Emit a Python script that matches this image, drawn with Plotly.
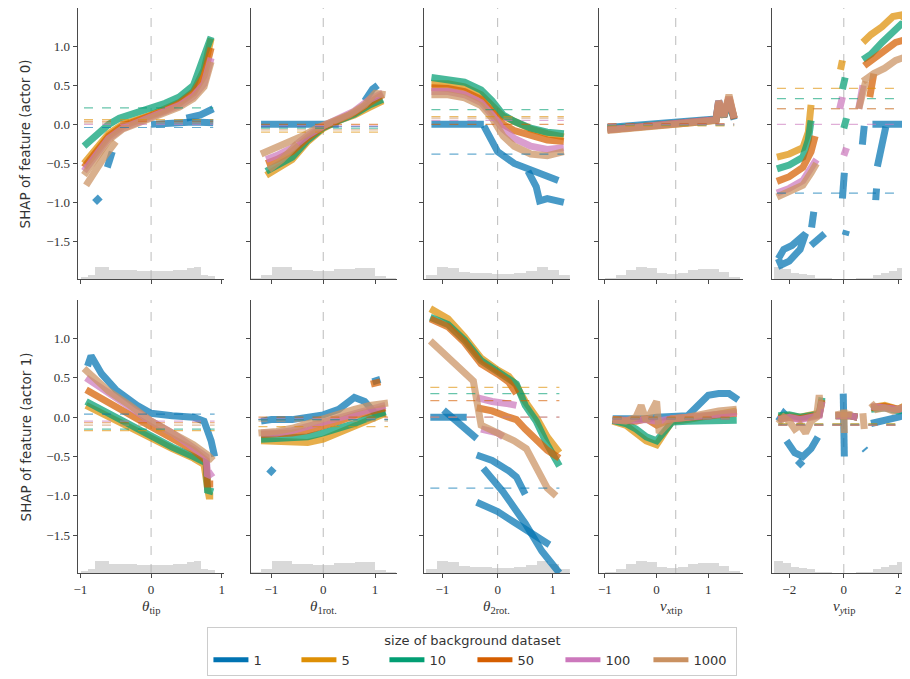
import plotly.graph_objects as go

# ---------------- data ----------------
SIZES = ["1", "5", "10", "50", "100", "1000"]
COLORS = ["#0173b2", "#de8f05", "#029e73", "#d55e00", "#cc78bc", "#ca9161"]

FEATURE_LABELS = [
    "<i>θ</i><sub>tip</sub>",
    "<i>θ</i><sub>1rot.</sub>",
    "<i>θ</i><sub>2rot.</sub>",
    "<i>v</i><sub><i>x</i>tip</sub>",
    "<i>v</i><sub><i>y</i>tip</sub>",
]
ROW_LABELS = ["SHAP of feature (actor 0)", "SHAP of feature (actor 1)"]
X_TICKS = [[-1, 0, 1], [-1, 0, 1], [-1, 0, 1], [-1, 0, 1], [-2, 0, 2]]
Y_TICKS = [-1.5, -1.0, -0.5, 0.0, 0.5, 1.0]
FEATURE_MEAN = [0.0, 0.0, 0.0, 0.37, 0.0]

# SHAP values, actor 0 : {background size: (x, y)}
A0_THETA_TIP = {
    "1": ([-0.80, -0.72, None, -0.62, -0.55, None, 0.0, 0.3, 0.6, 0.88, None, 0.5, 0.7, 0.88],
          [-1.0, -0.93, None, -0.55, -0.35, None, 0.0, 0.02, 0.03, 0.02, None, 0.08, 0.12, 0.2]),
    "5": ([-0.95, -0.8, -0.6, -0.4, -0.2, 0.0, 0.2, 0.4, 0.6, 0.75, 0.85],
          [-0.5, -0.35, -0.12, 0.0, 0.05, 0.12, 0.2, 0.28, 0.42, 0.7, 1.1]),
    "10": ([-0.95, -0.8, -0.6, -0.45, -0.2, 0.0, 0.2, 0.4, 0.6, 0.72, 0.85],
           [-0.28, -0.15, 0.0, 0.08, 0.15, 0.2, 0.27, 0.35, 0.5, 0.8, 1.12]),
    "50": ([-0.95, -0.8, -0.6, -0.4, -0.2, 0.0, 0.2, 0.4, 0.6, 0.75, 0.85],
           [-0.55, -0.38, -0.15, -0.02, 0.05, 0.1, 0.18, 0.27, 0.4, 0.62, 0.98]),
    "100": ([-0.95, -0.8, -0.6, -0.4, -0.2, 0.0, 0.2, 0.4, 0.6, 0.75, 0.85],
            [-0.6, -0.42, -0.18, -0.05, 0.02, 0.08, 0.15, 0.24, 0.36, 0.52, 0.85]),
    "1000": ([-0.95, -0.8, -0.6, -0.4, -0.2, 0.0, 0.2, 0.4, 0.6, 0.75, 0.85, None, -0.92, -0.8, -0.65, -0.5],
             [-0.65, -0.45, -0.2, -0.06, 0.01, 0.07, 0.14, 0.22, 0.33, 0.48, 0.8, None, -0.78, -0.6, -0.4, -0.22]),
}
A0_THETA_1ROT = {
    "1": ([-1.2, -0.6, 0.0, 0.3, None, 0.8, 0.95, 1.05], [0.0, 0.0, 0.0, 0.0, None, 0.3, 0.45, 0.5]),
    "5": ([-1.1, -0.9, -0.6, -0.3, 0.0, 0.3, 0.6, 0.9, 1.15],
          [-0.65, -0.58, -0.45, -0.22, -0.05, 0.05, 0.12, 0.22, 0.3]),
    "10": ([-1.1, -0.9, -0.6, -0.3, 0.0, 0.3, 0.6, 0.9, 1.15],
           [-0.6, -0.53, -0.42, -0.2, -0.04, 0.05, 0.13, 0.25, 0.32]),
    "50": ([-1.1, -0.9, -0.6, -0.3, 0.0, 0.3, 0.6, 0.9, 1.15],
           [-0.5, -0.45, -0.35, -0.17, -0.03, 0.06, 0.15, 0.28, 0.38]),
    "100": ([-1.1, -0.9, -0.6, -0.3, 0.0, 0.3, 0.6, 0.9, 1.15],
            [-0.45, -0.4, -0.3, -0.14, -0.02, 0.07, 0.17, 0.32, 0.4]),
    "1000": ([-1.2, -1.0, -0.7, -0.4, -0.1, 0.2, 0.5, 0.8, 1.0, 1.2, None, -1.05, -0.8, -0.5],
             [-0.38, -0.32, -0.25, -0.15, -0.04, 0.04, 0.12, 0.25, 0.4, 0.38, None, -0.58, -0.45, -0.25]),
}
A0_THETA_2ROT = {
    "1": ([-1.2, -0.6, -0.25, None, -0.25, 0.0, 0.3, 0.6, 0.9, 1.1, None, 0.55, 0.7, 0.76, 0.9, 1.2],
          [0.0, 0.0, 0.0, None, -0.02, -0.35, -0.5, -0.58, -0.65, -0.72, None, -0.6, -0.8, -0.98, -0.95, -1.0]),
    "5": ([-1.2, -0.9, -0.6, -0.3, -0.1, 0.1, 0.3, 0.6, 0.9, 1.2],
          [0.52, 0.52, 0.48, 0.38, 0.24, 0.1, 0.04, -0.06, -0.12, -0.16]),
    "10": ([-1.2, -0.9, -0.6, -0.3, -0.1, 0.1, 0.3, 0.6, 0.9, 1.2],
           [0.6, 0.58, 0.54, 0.44, 0.3, 0.12, 0.04, -0.05, -0.1, -0.12]),
    "50": ([-1.2, -0.9, -0.6, -0.3, -0.1, 0.1, 0.3, 0.6, 0.9, 1.2],
           [0.47, 0.46, 0.42, 0.32, 0.16, 0.0, -0.08, -0.14, -0.2, -0.22]),
    "100": ([-1.2, -0.9, -0.6, -0.3, -0.1, 0.1, 0.3, 0.6, 0.9, 1.2],
            [0.42, 0.42, 0.38, 0.28, 0.12, -0.06, -0.18, -0.28, -0.32, -0.3]),
    "1000": ([-1.2, -0.9, -0.6, -0.3, -0.1, 0.1, 0.3, 0.6, 0.9, 1.2],
             [0.38, 0.38, 0.34, 0.24, 0.08, -0.15, -0.28, -0.38, -0.4, -0.35]),
}
A0_VX_TIP = {
    "1": ([-0.95, -0.5, 0.0, 0.5, 1.0, 1.15, 1.2, 1.3, 1.4, 1.5],
          [-0.04, -0.02, 0.0, 0.02, 0.05, 0.07, 0.3, 0.1, 0.3, 0.06]),
    "5": ([-0.95, -0.5, 0.0, 0.5, 1.0, 1.15, 1.2, 1.3, 1.4, 1.5],
          [-0.07, -0.05, -0.02, 0.01, 0.04, 0.06, 0.2, 0.1, 0.35, 0.08]),
    "10": ([-0.95, -0.5, 0.0, 0.5, 1.0, 1.15, 1.2, 1.3, 1.4, 1.5],
           [-0.06, -0.04, -0.01, 0.02, 0.05, 0.06, 0.25, 0.1, 0.3, 0.08]),
    "50": ([-0.95, -0.5, 0.0, 0.5, 1.0, 1.15, 1.2, 1.3, 1.4, 1.5],
           [-0.07, -0.04, -0.01, 0.02, 0.05, 0.06, 0.28, 0.12, 0.33, 0.07]),
    "100": ([-0.95, -0.5, 0.0, 0.5, 1.0, 1.15, 1.2, 1.3, 1.4, 1.5],
            [-0.07, -0.04, -0.01, 0.02, 0.05, 0.06, 0.3, 0.1, 0.35, 0.08]),
    "1000": ([-0.95, -0.5, 0.0, 0.5, 1.0, 1.15, 1.2, 1.3, 1.4, 1.5],
             [-0.08, -0.05, -0.02, 0.01, 0.04, 0.05, 0.3, 0.1, 0.38, 0.08]),
}
A0_VY_TIP = {
    "1": ([-2.4, -2.2, -1.9, -1.6, -1.4, -1.6, -2.0, -2.3, -2.4, None, -1.2, -0.7, None, -1.18, -1.1,
           None, -0.05, 0.02, None, 0.05, 0.1, None, 0.68, 0.75, None, 1.05, 1.5, 2.0, 2.4,
           None, 1.23, 1.54, None, 1.17, 1.2],
          [-1.72, -1.6, -1.55, -1.45, -1.4, -1.6, -1.75, -1.8, -1.72, None, -1.55, -1.4, None, -1.32, -1.12,
           None, -0.95, -0.62, None, -1.42, -1.36, None, -0.26, -0.02, None, 0.0, 0.0, 0.0, 0.0,
           None, -0.54, -0.03, None, -0.97, -0.82]),
    "5": ([-2.45, -2.0, -1.5, -1.3, -1.2, None, -0.12, -0.05, None, 0.7, 1.0, 1.4, 1.8, 2.1, 2.4],
          [-0.42, -0.38, -0.3, -0.1, 0.25, None, 0.7, 0.82, None, 1.05, 1.15, 1.25, 1.38, 1.4, 1.3]),
    "10": ([-2.45, -2.0, -1.5, -1.3, -1.2, None, -0.05, 0.05, None, 0.0, 0.1, None, 0.7, 1.0, 1.4, 1.8, 2.1, 2.4],
           [-0.57, -0.52, -0.42, -0.2, 0.05, None, 0.45, 0.6, None, -0.05, 0.08, None, 0.83, 0.9, 1.05, 1.2, 1.28, 1.25]),
    "50": ([-2.45, -2.0, -1.5, -1.2, -1.05, None, 0.75, 1.1, 1.5, 1.9, 2.4, None, 0.95, 1.1],
           [-0.73, -0.67, -0.55, -0.35, -0.15, None, 0.75, 0.85, 0.95, 1.05, 1.1, None, 0.35, 0.65]),
    "100": ([-0.15, -0.05, None, 0.0, 0.1, None, 0.55, 0.7, None, -2.45, -2.0, -1.5, -1.2, -1.0],
            [0.2, 0.35, None, -0.4, -0.3, None, 0.2, 0.5, None, -0.88, -0.82, -0.72, -0.58, -0.45]),
    "1000": ([-2.45, -2.0, -1.5, -1.2, -1.0, None, 0.7, 1.1, 1.5, 1.9, 2.4, None, 0.55, 0.8],
             [-0.93, -0.87, -0.78, -0.62, -0.5, None, 0.55, 0.65, 0.72, 0.82, 0.88, None, 0.2, 0.55]),
}

# SHAP values, actor 1
A1_THETA_TIP = {
    "1": ([-0.9, -0.85, -0.7, -0.5, -0.2, 0.0, 0.3, 0.6, 0.75, 0.85, 0.9],
          [0.65, 0.78, 0.55, 0.35, 0.15, 0.05, 0.02, 0.0, -0.05, -0.3, -0.5]),
    "5": ([-0.92, -0.6, -0.3, 0.0, 0.3, 0.6, 0.75, 0.8, 0.82, 0.88],
          [0.15, 0.0, -0.12, -0.27, -0.4, -0.52, -0.6, -0.9, -1.0, -1.0]),
    "10": ([-0.92, -0.6, -0.3, 0.0, 0.3, 0.6, 0.78, 0.8, 0.88],
           [0.2, 0.05, -0.1, -0.25, -0.38, -0.5, -0.58, -0.93, -0.95]),
    "50": ([-0.92, -0.6, -0.3, 0.0, 0.3, 0.6, 0.78, 0.8, 0.88],
           [0.35, 0.18, 0.02, -0.12, -0.27, -0.42, -0.55, -0.85, -0.85]),
    "100": ([-0.92, -0.6, -0.3, 0.0, 0.3, 0.6, 0.78, 0.8, 0.88],
            [0.5, 0.3, 0.12, -0.05, -0.2, -0.38, -0.5, -0.75, -0.7]),
    "1000": ([-0.95, -0.8, -0.6, -0.3, 0.0, 0.3, 0.6, 0.8, 0.88],
             [0.62, 0.5, 0.33, 0.15, -0.05, -0.2, -0.35, -0.48, -0.55]),
}
A1_THETA_1ROT = {
    "1": ([-1.2, -1.0, -0.6, -0.3, 0.0, 0.3, 0.6, 0.8, 1.0, 1.2, None, -1.05, -0.95, None, 0.95, 1.1],
          [-0.05, -0.03, -0.03, 0.0, 0.03, 0.1, 0.25, 0.2, 0.05, 0.05, None, -0.72, -0.65, None, 0.45, 0.48]),
    "5": ([-1.2, -0.9, -0.6, -0.3, 0.0, 0.3, 0.6, 0.9, 1.2],
          [-0.3, -0.3, -0.3, -0.32, -0.28, -0.2, -0.1, -0.02, 0.05]),
    "10": ([-1.2, -0.9, -0.6, -0.3, 0.0, 0.3, 0.6, 0.9, 1.2],
           [-0.28, -0.27, -0.25, -0.25, -0.2, -0.15, -0.08, 0.0, 0.07]),
    "50": ([-1.2, -0.9, -0.6, -0.3, 0.0, 0.3, 0.6, 0.9, 1.2, None, 0.92, 1.1],
           [-0.22, -0.22, -0.2, -0.17, -0.12, -0.05, 0.02, 0.08, 0.12, None, 0.42, 0.45]),
    "100": ([-1.2, -0.9, -0.6, -0.3, 0.0, 0.3, 0.6, 0.9, 1.2],
            [-0.2, -0.2, -0.17, -0.12, -0.05, 0.0, 0.05, 0.1, 0.15]),
    "1000": ([-1.25, -0.9, -0.6, -0.3, 0.0, 0.3, 0.6, 0.9, 1.25],
             [-0.2, -0.18, -0.14, -0.08, 0.0, 0.05, 0.1, 0.15, 0.18]),
}
A1_THETA_2ROT = {
    "1": ([-1.22, -0.56, None, -0.98, -0.7, -0.38, None, -0.38, -0.1, 0.2, 0.34, 0.5, None,
           -0.26, 0.1, 0.5, 0.8, 1.12, None, -0.38, 0.0, 0.4, 0.7, 0.94],
          [0.0, 0.0, None, 0.09, -0.08, -0.27, None, -0.48, -0.55, -0.68, -0.76, -0.98, None,
           -0.65, -0.95, -1.35, -1.7, -1.98, None, -1.08, -1.2, -1.38, -1.5, -1.62]),
    "5": ([-1.22, -0.9, -0.6, -0.3, 0.0, 0.2, 0.34, 0.5, 0.7, 0.9, 1.12],
          [1.38, 1.25, 1.02, 0.75, 0.6, 0.52, 0.4, 0.2, 0.0, -0.25, -0.45]),
    "10": ([-1.22, -0.9, -0.6, -0.3, 0.0, 0.2, 0.34, 0.5, 0.7, 0.9, 1.12],
           [1.27, 1.18, 0.98, 0.72, 0.58, 0.5, 0.42, 0.15, -0.05, -0.35, -0.62]),
    "50": ([-1.22, -0.9, -0.6, -0.3, 0.0, 0.2, 0.34, None, -0.38, -0.1, 0.2, 0.34, 0.5, 0.7, 0.9, 1.12],
           [1.25, 1.15, 0.95, 0.68, 0.55, 0.45, 0.3, None, 0.12, 0.08, 0.0, -0.03, -0.15, -0.3, -0.42, -0.52]),
    "100": ([-0.38, -0.1, 0.2, 0.34, None, -0.3, 0.0, 0.1],
            [0.25, 0.2, 0.17, 0.15, None, -0.15, -0.2, -0.25]),
    "1000": ([-1.22, -0.9, -0.6, -0.44, -0.3, 0.0, 0.3, 0.52, 0.75, 0.9, 1.06],
             [0.97, 0.75, 0.55, 0.46, -0.1, -0.2, -0.3, -0.4, -0.7, -0.9, -1.0]),
}
A1_VX_TIP = {
    "1": ([-0.85, -0.5, -0.2, 0.0, 0.3, 0.6, 0.8, 1.0, 1.2, 1.4, 1.58],
          [-0.02, -0.03, -0.02, 0.0, 0.0, 0.02, 0.15, 0.28, 0.3, 0.3, 0.22]),
    "5": ([-0.85, -0.6, -0.4, -0.2, 0.0, 0.3, 0.6, 0.9, 1.2, 1.55],
          [-0.05, -0.1, -0.2, -0.3, -0.35, -0.05, -0.03, 0.0, 0.05, 0.08]),
    "10": ([-0.85, -0.6, -0.4, -0.2, 0.0, 0.3, 0.6, 0.9, 1.2, 1.55],
           [-0.04, -0.08, -0.15, -0.25, -0.3, -0.06, -0.05, -0.05, -0.04, -0.04]),
    "50": ([-0.85, -0.6, -0.4, -0.2, 0.0, 0.3, 0.6, 0.9, 1.2, 1.55],
           [-0.03, -0.05, -0.05, -0.02, -0.1, -0.02, 0.0, 0.02, 0.04, 0.05]),
    "100": ([-0.85, -0.6, -0.4, -0.2, 0.0, 0.3, 0.6, 0.9, 1.2, 1.55],
            [-0.04, -0.05, -0.04, -0.03, -0.05, -0.02, 0.0, 0.02, 0.04, 0.06]),
    "1000": ([-0.85, -0.6, -0.4, -0.3, -0.2, 0.0, 0.05, 0.3, 0.6, 0.9, 1.2, 1.55],
             [-0.03, -0.05, 0.0, 0.15, -0.05, 0.2, -0.2, -0.02, 0.0, 0.05, 0.08, 0.1]),
}
A1_VY_TIP = {
    "1": ([-2.4, -2.2, -2.0, None, -2.1, -1.8, -1.5, -1.2, -0.95, None, -1.7, -1.5, None,
           -0.02, 0.0, 0.02, None, 0.75, 0.8, None, 1.0, 1.5, 2.0, 2.4],
          [-0.05, 0.05, -0.02, None, -0.3, -0.45, -0.5, -0.4, -0.25, None, -0.55, -0.62, None,
           0.3, 0.0, -0.5, None, -0.4, -0.42, None, -0.08, -0.05, 0.0, 0.05]),
    "5": ([-2.4, -2.0, -1.6, -1.2, -0.9, -0.8, None, -0.3, 0.0, 0.2, 0.5, None, 1.0, 1.5, 2.0, 2.4],
          [0.0, 0.02, 0.0, 0.02, 0.05, 0.2, None, 0.02, 0.03, 0.02, 0.0, None, 0.12, 0.15, 0.1, 0.18]),
    "10": ([-2.4, -2.0, -1.6, -1.2, -0.9, -0.8, None, -0.3, 0.0, 0.2, 0.5, None, 1.0, 1.5, 2.0, 2.4],
           [0.02, 0.03, 0.0, 0.02, 0.04, 0.25, None, 0.02, 0.03, 0.02, 0.0, None, 0.1, 0.12, 0.08, 0.1]),
    "50": ([-2.4, -2.0, -1.6, -1.2, -0.9, -0.8, None, -0.3, 0.0, 0.2, 0.5, None, 1.0, 1.5, 2.0, 2.4],
           [-0.02, 0.0, -0.02, 0.0, 0.03, 0.22, None, 0.02, 0.03, 0.02, 0.0, None, 0.12, 0.14, 0.1, 0.15]),
    "100": ([-2.4, -2.0, -1.6, -1.2, -0.9, -0.8, None, -0.3, 0.0, 0.2, 0.5, None, 1.0, 1.5, 2.0, 2.4],
            [-0.03, 0.0, -0.03, 0.0, 0.02, 0.2, None, 0.02, 0.03, 0.02, 0.0, None, 0.14, 0.12, 0.1, 0.14]),
    "1000": ([-2.4, -2.2, -2.0, -1.8, -1.6, -1.4, -1.2, -1.0, -0.9, -0.85, None, -0.3, 0.0, 0.3, None,
              0.0, 0.02, None, 0.7, 0.75, None, 1.0, 1.2, 1.5, 1.8, 2.1, 2.4],
             [-0.08, 0.0, -0.05, -0.15, -0.1, -0.2, -0.05, 0.0, 0.28, 0.1, None, 0.03, 0.05, 0.03, None,
              0.1, -0.2, None, 0.05, -0.15, None, 0.18, 0.1, 0.12, 0.08, 0.12, 0.15]),
}

# expected value (baseline) per background size, per panel
BASE_A0 = [
    [-0.04, 0.06, 0.21, 0.04, 0.0, 0.02],
    [-0.03, -0.1, -0.05, 0.0, -0.02, -0.07],
    [-0.38, 0.1, 0.19, 0.0, 0.05, 0.08],
    [0.0, -0.02, -0.01, 0.01, 0.0, -0.01],
    [-0.88, 0.46, 0.33, 0.2, 0.0, 0.2],
]
BASE_A1 = [
    [0.04, -0.17, -0.15, -0.07, -0.05, -0.1],
    [-0.03, -0.12, -0.03, 0.0, -0.02, -0.05],
    [-0.9, 0.38, 0.3, 0.21, 0.0, 0.0],
    [-0.02, -0.02, -0.01, 0.0, -0.02, -0.01],
    [-0.1, -0.08, -0.09, -0.1, -0.1, -0.1],
]

# feature value histograms (bin centres, relative counts)
HIST_X = [
    [-0.95, -0.85, -0.75, -0.65, -0.55, -0.45, -0.35, -0.25, -0.15, -0.05,
     0.05, 0.15, 0.25, 0.35, 0.45, 0.55, 0.65, 0.75, 0.85],
    [-1.3, -1.1, -0.9, -0.7, -0.5, -0.3, -0.1, 0.1, 0.3, 0.5, 0.7, 0.9, 1.1, 1.3],
    [-1.2, -1.0, -0.8, -0.6, -0.4, -0.2, 0.0, 0.2, 0.4, 0.6, 0.8, 1.0, 1.2],
    [-0.9, -0.7, -0.5, -0.3, -0.1, 0.1, 0.3, 0.5, 0.7, 0.9, 1.1, 1.3, 1.5],
    [-2.4, -2.1, -1.8, -1.5, -1.2, -0.9, -0.6, -0.3, 0.0, 0.3, 0.6, 0.9, 1.2, 1.5, 1.8, 2.1, 2.4],
]
HIST_H = [
    [0.2, 0.3, 1.0, 1.0, 0.8, 0.75, 0.75, 0.75, 0.72, 0.72, 0.72, 0.72, 0.72, 0.75, 0.78, 0.95, 1.0, 0.35, 0.25],
    [0.1, 0.3, 1.0, 1.0, 0.8, 0.75, 0.72, 0.72, 0.85, 0.88, 0.9, 0.9, 0.25, 0.1],
    [0.3, 1.0, 0.9, 0.6, 0.55, 0.5, 0.45, 0.45, 0.5, 0.7, 1.0, 0.8, 0.3],
    [0.1, 0.35, 0.8, 1.0, 0.9, 0.5, 0.4, 0.5, 0.8, 0.85, 0.85, 0.6, 0.2],
    [1.0, 0.85, 0.55, 0.45, 0.3, 0.12, 0.05, 0.02, 0.0, 0.02, 0.05, 0.12, 0.3, 0.5, 0.7, 0.9, 1.0],
]

SHAP = [
    [A0_THETA_TIP, A0_THETA_1ROT, A0_THETA_2ROT, A0_VX_TIP, A0_VY_TIP],
    [A1_THETA_TIP, A1_THETA_1ROT, A1_THETA_2ROT, A1_VX_TIP, A1_VY_TIP],
]
BASES = [BASE_A0, BASE_A1]

# ---------------- layout / style ----------------
OFF = 8                       # page body margin of the html page
W, H = 910 - OFF, 679 - OFF   # figure size, so that it ends at the window edge
X_DOM_PX = [(74, 221), (248, 395), (422, 569), (598, 743), (772, 910)]   # window pixels
Y_DOM_PX = [(8, 279), (300, 573)]
Y_RANGE = [-1.98, 1.49]
X_RANGES = [[-1.04, 1.03], [-1.40, 1.42], [-1.34, 1.31], [-1.12, 1.67], [-2.64, 2.39]]
SERIF = "Liberation Serif, DejaVu Serif, serif"
SANS = "DejaVu Sans, sans-serif"
AXCOL = "#4a4a4a"
HIST_SCALE = 0.15


def fx(px):
    return (px - OFF) / W


def fy(py):
    return 1 - (py - OFF) / H


def hex_rgba(h, a):
    h = h.lstrip("#")
    return "rgba(%d,%d,%d,%.2f)" % (int(h[0:2], 16), int(h[2:4], 16), int(h[4:6], 16), a)


def ax_id(k):
    return ("x", "y") if k == 1 else ("x%d" % k, "y%d" % k)


fig = go.Figure()
layout = {}
shapes = []
annotations = []

for r in range(2):
    for c in range(5):
        k = r * 5 + c + 1
        xa, ya = ax_id(k)
        xs = HIST_X[c]
        bw = xs[1] - xs[0]
        fig.add_trace(go.Bar(
            x=xs, y=[h * HIST_SCALE for h in HIST_H[c]], base=Y_RANGE[0], width=bw,
            marker=dict(color="rgba(180,180,180,0.5)", line=dict(width=0)),
            xaxis=xa, yaxis=ya, showlegend=False, hoverinfo="skip"))
        panel = SHAP[r][c]
        allx = [v for s in SIZES for v in panel[s][0] if v is not None]
        x0, x1 = min(allx), max(allx)
        for i, s in enumerate(SIZES):
            px, py = panel[s]
            fig.add_trace(go.Scatter(
                x=px, y=py, mode="lines",
                line=dict(color=hex_rgba(COLORS[i], 0.72), width=7),
                xaxis=xa, yaxis=ya, showlegend=False, hoverinfo="skip", connectgaps=False))
        for i, s in enumerate(SIZES):
            b = BASES[r][c][i]
            fig.add_trace(go.Scatter(
                x=[x0, x1], y=[b, b], mode="lines",
                line=dict(color=hex_rgba(COLORS[i], 0.6), width=1.2, dash="dash"),
                xaxis=xa, yaxis=ya, showlegend=False, hoverinfo="skip"))
        shapes.append(dict(type="line", xref=xa, yref="%s domain" % ya,
                           x0=FEATURE_MEAN[c], x1=FEATURE_MEAN[c], y0=0, y1=1,
                           line=dict(color="rgba(160,160,160,0.7)", width=1, dash="dash"), layer="below"))
        xd = [fx(X_DOM_PX[c][0]), min(1.0, fx(X_DOM_PX[c][1]))]
        yd = [fy(Y_DOM_PX[r][1]), fy(Y_DOM_PX[r][0])]
        xkey = "xaxis" if k == 1 else "xaxis%d" % k
        ykey = "yaxis" if k == 1 else "yaxis%d" % k
        layout[xkey] = dict(
            domain=xd, anchor=ya, range=X_RANGES[c], tickvals=X_TICKS[c],
            ticktext=[("−%d" % -t) if t < 0 else str(t) for t in X_TICKS[c]],
            showticklabels=(r == 1), ticks="outside", ticklen=4, tickcolor=AXCOL,
            showline=True, linecolor=AXCOL, linewidth=1.2, showgrid=False, zeroline=False,
            tickfont=dict(family=SERIF, size=13, color="#333"), fixedrange=True)
        layout[ykey] = dict(
            domain=yd, anchor=xa, range=Y_RANGE, tickvals=Y_TICKS,
            ticktext=[("−%.1f" % -t) if t < 0 else "%.1f" % t for t in Y_TICKS],
            showticklabels=(c == 0), ticks="outside", ticklen=4, tickcolor=AXCOL,
            showline=True, linecolor=AXCOL, linewidth=1.2, showgrid=False, zeroline=False,
            tickfont=dict(family=SERIF, size=13, color="#333"), fixedrange=True)

for c in range(5):
    annotations.append(dict(text=FEATURE_LABELS[c], xref="paper", yref="paper",
                            x=fx((X_DOM_PX[c][0] + min(X_DOM_PX[c][1], 918)) / 2 + (4 if c == 4 else 0)),
                            y=fy(607),
                            showarrow=False, xanchor="center", yanchor="middle",
                            font=dict(family=SERIF, size=15, color="#333")))
for r in range(2):
    annotations.append(dict(text=ROW_LABELS[r], xref="paper", yref="paper",
                            x=fx(22), y=fy((Y_DOM_PX[r][0] + Y_DOM_PX[r][1]) / 2),
                            textangle=-90, showarrow=False, xanchor="center", yanchor="middle",
                            font=dict(family=SANS, size=13.5, color="#333")))

for i, s in enumerate(SIZES):
    fig.add_trace(go.Scatter(x=[None], y=[None], mode="lines", name=s,
                             line=dict(color=COLORS[i], width=5), xaxis="x", yaxis="y",
                             showlegend=True))

fig.update_layout(
    width=W, height=H, margin=dict(l=0, r=0, t=0, b=0),
    plot_bgcolor="white", paper_bgcolor="white",
    barmode="overlay", bargap=0,
    shapes=shapes, annotations=annotations,
    legend=dict(orientation="h", x=fx(471), xanchor="center", y=fy(627), yanchor="top",
                title=dict(text="size of background dataset", side="top center",
                           font=dict(family=SANS, size=13, color="#333")),
                font=dict(family=SANS, size=13, color="#333"),
                bordercolor="#cccccc", borderwidth=1, bgcolor="white",
                entrywidth=38, entrywidthmode="pixels", itemwidth=35),
    **layout,
)

fig.write_html("out.html")
